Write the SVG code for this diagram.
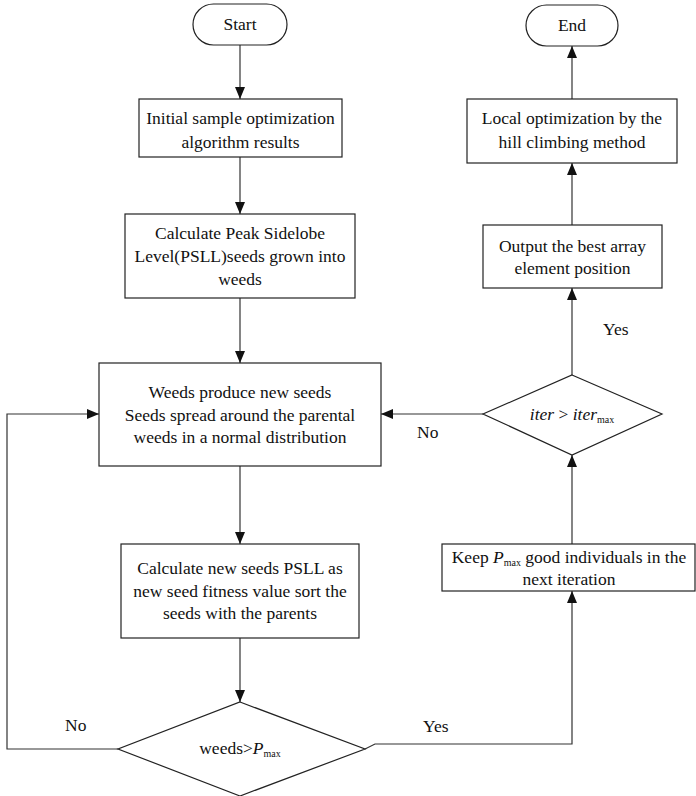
<svg xmlns="http://www.w3.org/2000/svg" width="696" height="796" viewBox="0 0 696 796" font-family="'Liberation Serif', 'DejaVu Serif', serif">
<style>
.s{fill:#fff;stroke:#222;stroke-width:1.2}
.c{fill:none;stroke:#333;stroke-width:1.2}
text{font-family:'Liberation Serif','DejaVu Serif',serif;font-size:17.5px;fill:#111;text-anchor:middle}
.it{font-style:italic}
.sub{font-size:10px}
.lbl{text-anchor:start}
</style>
<defs>
<marker id="a" viewBox="0 0 12 10" refX="12" refY="5" markerWidth="12" markerHeight="10" markerUnits="userSpaceOnUse" orient="auto">
<path d="M0,0 L12,5 L0,10 z" fill="#111"/>
</marker>
</defs>
<rect width="696" height="796" fill="#fff"/>
<g id="connectors">
<line class="c" x1="240" y1="45" x2="240" y2="99" marker-end="url(#a)"/>
<line class="c" x1="240" y1="157" x2="240" y2="214" marker-end="url(#a)"/>
<line class="c" x1="240" y1="298" x2="240" y2="363" marker-end="url(#a)"/>
<line class="c" x1="240" y1="466" x2="240" y2="544" marker-end="url(#a)"/>
<line class="c" x1="240" y1="638" x2="240" y2="702" marker-end="url(#a)"/>
<polyline class="c" points="118,749 7,749 7,414 99,414" marker-end="url(#a)"/>
<polyline class="c" points="365,749 375,744 572,744 572,591" marker-end="url(#a)"/>
<line class="c" x1="572" y1="544" x2="572" y2="455" marker-end="url(#a)"/>
<line class="c" x1="483" y1="414" x2="381" y2="414" marker-end="url(#a)"/>
<line class="c" x1="572" y1="375" x2="572" y2="288" marker-end="url(#a)"/>
<line class="c" x1="572" y1="225" x2="572" y2="163" marker-end="url(#a)"/>
<line class="c" x1="572" y1="99" x2="572" y2="46" marker-end="url(#a)"/>
<text class="lbl" x="65" y="731">No</text>
<text class="lbl" x="423" y="732">Yes</text>
<text class="lbl" x="417" y="438">No</text>
<text class="lbl" x="603" y="335">Yes</text>
</g>
<g id="start">
<rect class="s" x="193" y="4" width="94" height="41" rx="20.5"/>
<text x="240" y="30">Start</text>
</g>
<g id="init">
<rect class="s" x="139" y="99" width="203" height="58"/>
<text x="240.5" y="124">Initial sample optimization</text>
<text x="240.5" y="148">algorithm results</text>
</g>
<g id="pssl">
<rect class="s" x="125" y="214" width="230" height="84"/>
<text x="240" y="239">Calculate Peak Sidelobe</text>
<text x="240" y="262">Level(PSLL)seeds grown into</text>
<text x="240" y="285">weeds</text>
</g>
<g id="produce">
<rect class="s" x="99" y="363" width="282" height="103"/>
<text x="240" y="398">Weeds produce new seeds</text>
<text x="240" y="421">Seeds spread around the parental</text>
<text x="240" y="443">weeds in a normal distribution</text>
</g>
<g id="calcnew">
<rect class="s" x="121" y="544" width="238" height="94"/>
<text x="240" y="574">Calculate new seeds PSLL as</text>
<text x="240" y="597">new seed fitness value sort the</text>
<text x="240" y="619">seeds with the parents</text>
</g>
<g id="dec1">
<polygon class="s" points="240,702 365,749 240,796 118,749"/>
<text x="240" y="754">weeds&gt;<tspan class="it">P</tspan><tspan class="sub" dy="3">max</tspan></text>
</g>
<g id="keep">
<rect class="s" x="442" y="544" width="253" height="47"/>
<text x="569" y="563">Keep <tspan class="it">P</tspan><tspan class="sub" dy="3">max</tspan><tspan dy="-3"> good individuals in the</tspan></text>
<text x="569" y="585">next iteration</text>
</g>
<g id="dec2">
<polygon class="s" points="572,375 662,414 572,455 483,414"/>
<text x="572" y="420"><tspan class="it">iter</tspan> &gt; <tspan class="it">iter</tspan><tspan class="sub" dy="3">max</tspan></text>
</g>
<g id="output">
<rect class="s" x="483" y="225" width="179" height="63"/>
<text x="572.5" y="252">Output the best array</text>
<text x="572.5" y="274">element position</text>
</g>
<g id="local">
<rect class="s" x="467" y="99" width="210" height="64"/>
<text x="572" y="124">Local optimization by the</text>
<text x="572" y="148">hill climbing method</text>
</g>
<g id="end">
<rect class="s" x="526" y="5" width="92" height="41" rx="20.5"/>
<text x="572" y="31">End</text>
</g>
</svg>
